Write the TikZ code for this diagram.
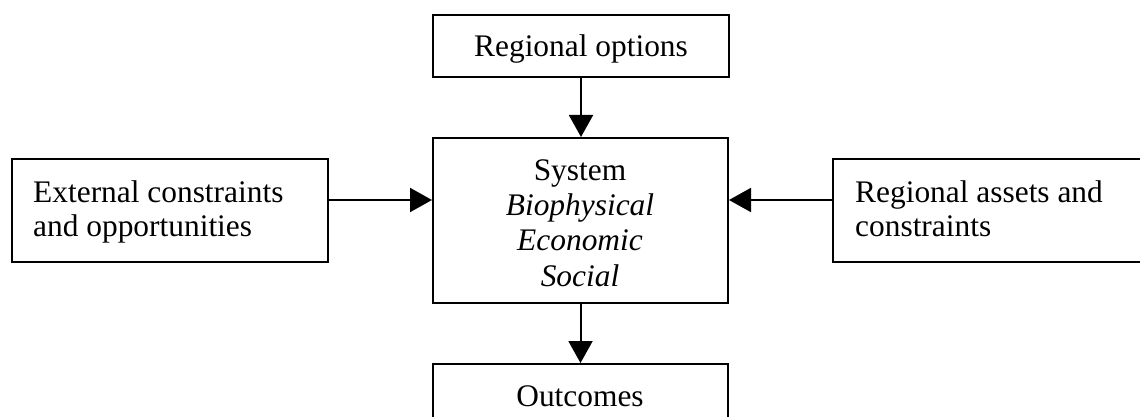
\documentclass[tikz,border=0pt]{standalone}
\usepackage{fontspec}
\setmainfont{Liberation Serif}
\usetikzlibrary{arrows.meta}
\begin{document}
\begin{tikzpicture}[x=1pt,y=-1pt,
  box/.style={draw, line width=2pt, inner sep=0pt, anchor=north west},
  link/.style={line width=2pt, -{Triangle[length=22pt,width=24pt]}},
  lbl/.style={inner sep=0pt, font=\fontsize{31.4}{35.5}\selectfont}]
\useasboundingbox (0,0) rectangle (1140,417);
\clip (0,0) rectangle (1140,417);
% boxes
\node[box, minimum width=296pt, minimum height=62pt]  (ro)  at (432,14)  {};
\node[box, minimum width=295pt, minimum height=165pt] (sys) at (432,137) {};
\node[box, minimum width=316pt, minimum height=103pt] (ext) at (11,158)  {};
\node[box, minimum width=320pt, minimum height=103pt] (ra)  at (832,158) {};
\node[box, minimum width=295pt, minimum height=70pt]  (out) at (432,363) {};
% labels
\node[lbl, anchor=base] (ro-t) at (581,57) {Regional options};
\node[lbl, anchor=base] (sys-t1) at (580,180) {System};
\node[lbl, anchor=base] (sys-t2) at (580,215) {\itshape Biophysical};
\node[lbl, anchor=base] (sys-t3) at (580,250) {\itshape Economic};
\node[lbl, anchor=base] (sys-t4) at (580,286) {\itshape Social};
\node[lbl, anchor=base west] (ext-t1) at (33,202) {External constraints};
\node[lbl, anchor=base west] (ext-t2) at (33,236) {and opportunities};
\node[lbl, anchor=base west] (ra-t1) at (855,202) {Regional assets and};
\node[lbl, anchor=base west] (ra-t2) at (855,236) {constraints};
\node[lbl, anchor=base] (out-t) at (580,406) {Outcomes};
% connectors
\draw[link] (ro.south) -- (ro.south |- sys.north);
\draw[link] ([yshift=10.5pt]ext.east) -- ([yshift=10.5pt]ext.east -| sys.west);
\draw[link] ([yshift=10.5pt]ra.west) -- ([yshift=10.5pt]ra.west -| sys.east);
\draw[link] (sys.south) -- (sys.south |- out.north);
\end{tikzpicture}
\end{document}
